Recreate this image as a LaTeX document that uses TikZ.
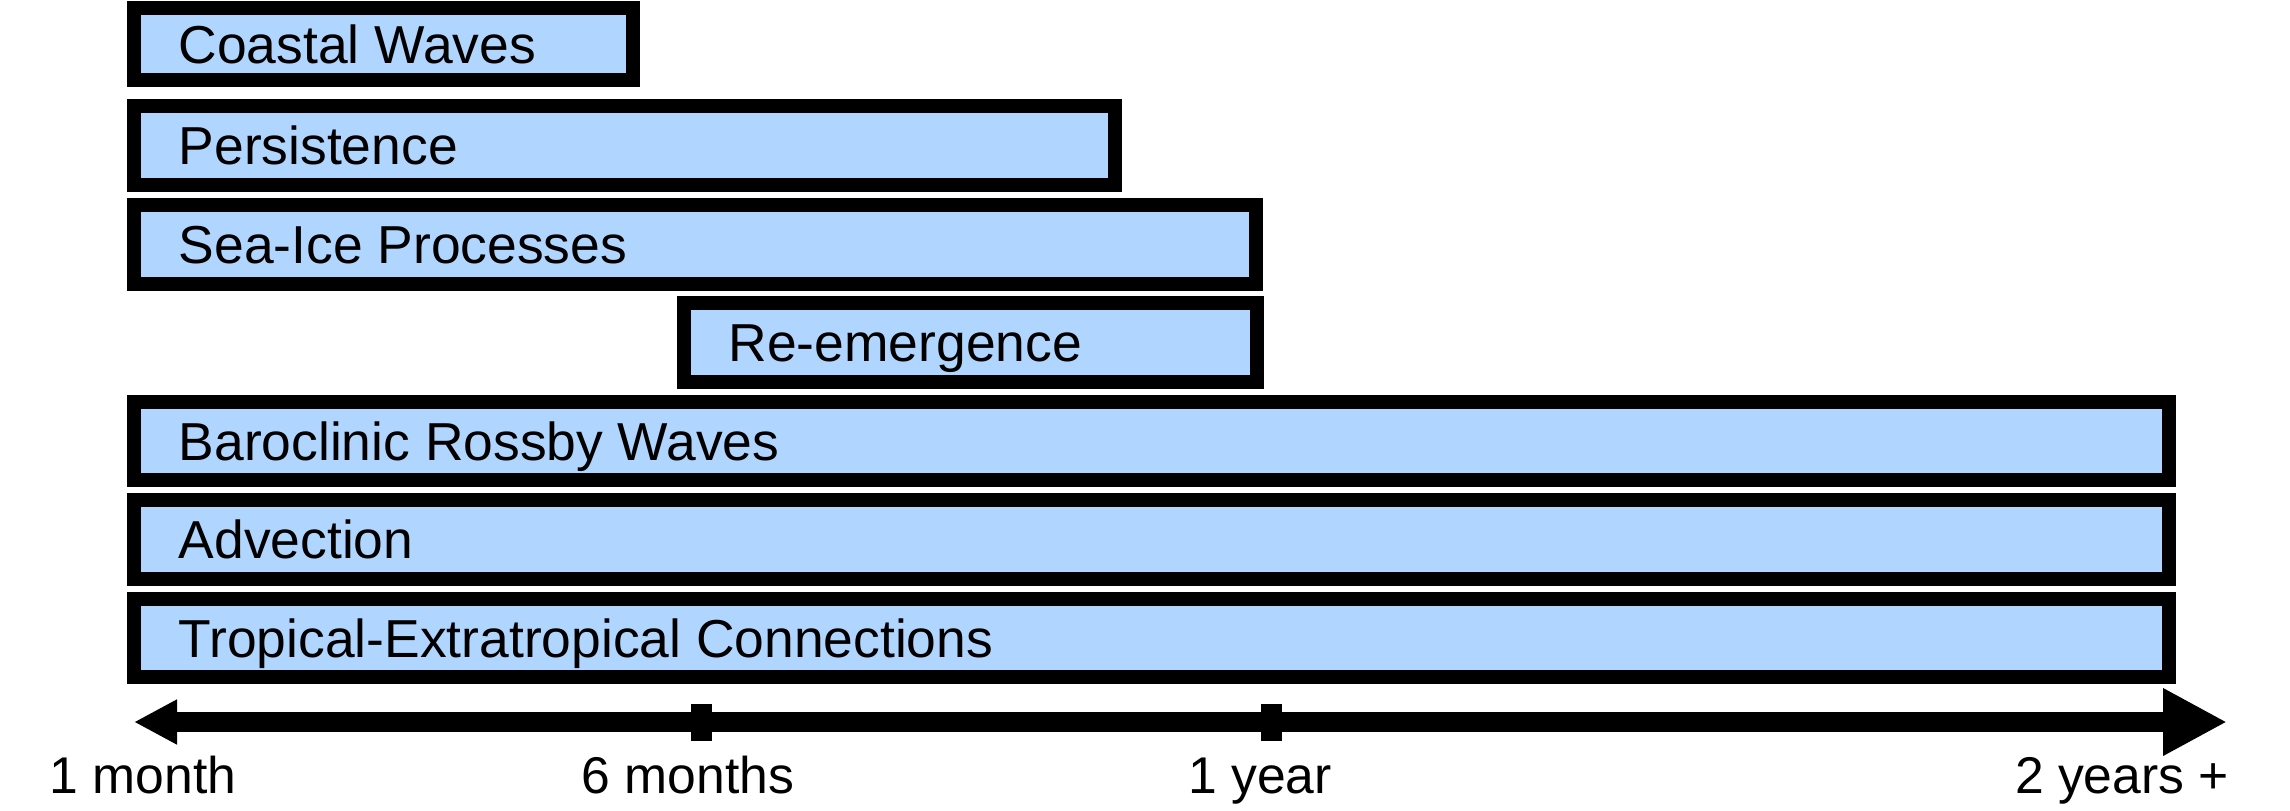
\documentclass[tikz,border=0pt]{standalone}
\usepackage{fontspec}
\setmainfont{Liberation Sans}
\usetikzlibrary{arrows.meta}
\definecolor{barblue}{RGB}{176,213,254}

\begin{document}
\begin{tikzpicture}[x=0.1mm, y=-0.1mm,
		bar/.style={draw=black, fill=barblue, line width=1.4mm},
		barlabel/.style={anchor=base west, inner sep=0pt, font=\fontsize{15.2}{18}\selectfont},
		ticklabel/.style={anchor=base, inner sep=0pt, font=\fontsize{14.7}{17}\selectfont},
		tickmark/.style={fill=black, inner sep=0pt, minimum width=2.1mm, minimum height=3.7mm}]
		\useasboundingbox (0,0) rectangle (2290,810);
	
		\foreach \name/\xa/\xb/\ya/\yb/\txt in {coastal/134/633/8/80/Coastal Waves,
				persist/134/1115/106/185/Persistence,
				seaice/134/1256/205/284/Sea-Ice Processes,
				reemerg/684/1257/303/382/Re-emergence,
				rossby/134/2169/402/480/Baroclinic Rossby Waves,
				advect/134/2169/500/579/Advection,
				tropic/134/2169/599/677/Tropical-Extratropical Connections} {
			\draw[bar] (\xa,\ya) rectangle (\xb,\yb);
			\node[barlabel] (\name) at ({\xa+44},{(\ya+\yb)/2+19}) {\txt};
		}
	
		\coordinate (tstart) at (134,722);
		\coordinate (tend) at (2227,722);
		\draw[line width=2mm, {Triangle[length=4.3mm,width=4.2mm]}-{Triangle[length=6.4mm,width=6.3mm]}] (tstart) -- (tend);
	
		\node[tickmark] (sixmonths) at (701.5,722) {};
		\node[tickmark] (oneyear) at (1271.5,722) {};
	
		\node[ticklabel] (lmonth) at (143,793) {1 month};
		\node[ticklabel] (lsix) at (688,793) {6 months};
		\node[ticklabel] (lyear) at (1260,793) {1 year};
		\node[ticklabel] (ltwo) at (2122,793) {2 years +};
	\end{tikzpicture}
\end{document}
